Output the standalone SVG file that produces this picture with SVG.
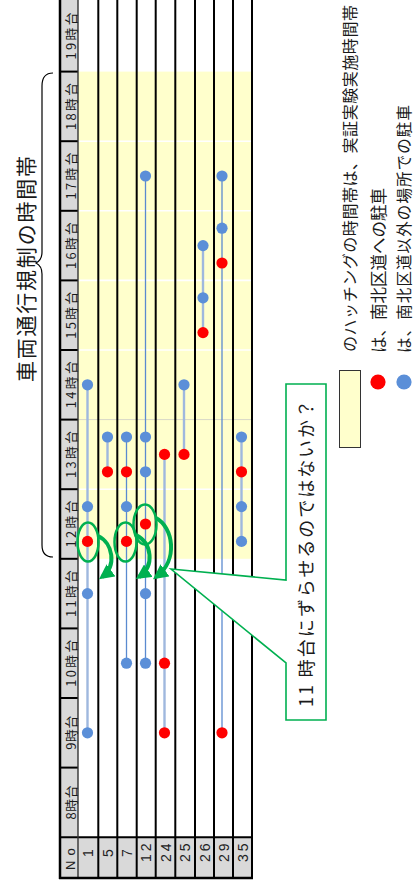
<svg xmlns="http://www.w3.org/2000/svg" width="413" height="885" viewBox="0 0 413 885">
<style>
.jp{font-family:"Noto Sans CJK JP","Liberation Sans",sans-serif;fill:#1a1a1a}
.hd{font-size:12.8px}
.num{font-family:"Liberation Sans","Noto Sans CJK JP",sans-serif;font-size:14px;fill:#222}
.vl{stroke:#000;stroke-width:2}
.hw{stroke:#fff;stroke-width:1.6}
.hb{stroke:#000;stroke-width:2}
.lnL{stroke:#9FB8DE;stroke-width:2.4}
.lnT{stroke:#5B8AD0;stroke-width:1.3}
.b{fill:#5B8FD8}
.r{fill:#FF0000}
.g{fill:none;stroke:#00B050;stroke-width:2.5}
.ga{fill:none;stroke:#00B050;stroke-width:4;marker-end:url(#ah)}
</style>
<defs>
<marker id="ah" markerUnits="userSpaceOnUse" markerWidth="15" markerHeight="15" refX="9" refY="6" orient="auto" viewBox="0 0 12 12">
<path d="M0,0 L12,6 L0,12 Z" fill="#00B050"/>
</marker>
</defs>
<rect width="413" height="885" fill="#fff"/>

<g id="table">
<rect x="78" y="71.6" width="174" height="487.2" fill="#FFFFCC"/>
<g id="hgrid">
<line class="hw" x1="78" y1="141.2" x2="252" y2="141.2"/>
<line class="hw" x1="78" y1="210.8" x2="252" y2="210.8"/>
<line class="hw" x1="78" y1="280.4" x2="252" y2="280.4"/>
<line class="hw" x1="78" y1="350" x2="252" y2="350"/>
<line x1="78" y1="419.6" x2="252" y2="419.6" stroke="#D8D8C8" stroke-width="1"/>
<line class="hw" x1="78" y1="489.2" x2="252" y2="489.2"/>
</g>
<rect x="60" y="0" width="18" height="878" fill="#D9D9D9"/>
<rect x="78" y="837.2" width="174" height="40.8" fill="#D9D9D9"/>
<g id="header-lines">
<line class="hb" x1="60" y1="71.6" x2="78" y2="71.6"/>
<line class="hb" x1="60" y1="141.2" x2="78" y2="141.2"/>
<line class="hb" x1="60" y1="210.8" x2="78" y2="210.8"/>
<line class="hb" x1="60" y1="280.4" x2="78" y2="280.4"/>
<line class="hb" x1="60" y1="350" x2="78" y2="350"/>
<line class="hb" x1="60" y1="419.6" x2="78" y2="419.6"/>
<line class="hb" x1="60" y1="489.2" x2="78" y2="489.2"/>
<line class="hb" x1="60" y1="558.8" x2="78" y2="558.8"/>
<line class="hb" x1="60" y1="628.4" x2="78" y2="628.4"/>
<line class="hb" x1="60" y1="698" x2="78" y2="698"/>
<line class="hb" x1="60" y1="767.6" x2="78" y2="767.6"/>
<line class="hb" x1="60" y1="837.2" x2="252" y2="837.2" stroke-width="1.2"/>
<line x1="60" y1="0" x2="60" y2="879" stroke="#000" stroke-width="2.5"/>
<line x1="78" y1="0" x2="78" y2="878" stroke="#333" stroke-width="1.4"/>
<line x1="59" y1="878" x2="253" y2="878" stroke="#000" stroke-width="2.5"/>
</g>
<g id="vgrid">
<line class="vl" x1="98.3" y1="0" x2="98.3" y2="878" stroke-width="2.5"/>
<line class="vl" x1="117.3" y1="0" x2="117.3" y2="878"/>
<line class="vl" x1="136.7" y1="0" x2="136.7" y2="878" stroke-width="2.5"/>
<line class="vl" x1="155.7" y1="0" x2="155.7" y2="878"/>
<line class="vl" x1="175.3" y1="0" x2="175.3" y2="878"/>
<line class="vl" x1="195" y1="0" x2="195" y2="878"/>
<line class="vl" x1="214" y1="0" x2="214" y2="878" stroke-width="2.5"/>
<line class="vl" x1="233" y1="0" x2="233" y2="878"/>
<line class="vl" x1="252" y1="0" x2="252" y2="878"/>
</g>
<g id="hour-labels" class="jp hd" text-anchor="middle" dominant-baseline="central">
<text transform="translate(70.5,36) rotate(-90)" textLength="47" lengthAdjust="spacing">19時台</text>
<text transform="translate(70.5,106.4) rotate(-90)" textLength="47" lengthAdjust="spacing">18時台</text>
<text transform="translate(70.5,176) rotate(-90)" textLength="47" lengthAdjust="spacing">17時台</text>
<text transform="translate(70.5,245.6) rotate(-90)" textLength="47" lengthAdjust="spacing">16時台</text>
<text transform="translate(70.5,315.2) rotate(-90)" textLength="47" lengthAdjust="spacing">15時台</text>
<text transform="translate(70.5,384.8) rotate(-90)" textLength="47" lengthAdjust="spacing">14時台</text>
<text transform="translate(70.5,454.4) rotate(-90)" textLength="47" lengthAdjust="spacing">13時台</text>
<text transform="translate(70.5,524) rotate(-90)" textLength="47" lengthAdjust="spacing">12時台</text>
<text transform="translate(70.5,593.6) rotate(-90)" textLength="47" lengthAdjust="spacing">11時台</text>
<text transform="translate(70.5,663.2) rotate(-90)" textLength="47" lengthAdjust="spacing">10時台</text>
<text transform="translate(70.5,732.8) rotate(-90)" textLength="34" lengthAdjust="spacing">9時台</text>
<text transform="translate(70.5,802.4) rotate(-90)" textLength="34" lengthAdjust="spacing">8時台</text>
</g>
<g id="no-labels" class="num" dominant-baseline="central">
<text transform="translate(70,870) rotate(-90)" font-size="13" letter-spacing="5">No</text>
<text transform="translate(88,853) rotate(-90)" text-anchor="middle">1</text>
<text transform="translate(107.8,853) rotate(-90)" text-anchor="middle">5</text>
<text transform="translate(127,853) rotate(-90)" text-anchor="middle">7</text>
<text transform="translate(146.2,862) rotate(-90)" letter-spacing="3">12</text>
<text transform="translate(165.5,862) rotate(-90)" letter-spacing="3">24</text>
<text transform="translate(185,862) rotate(-90)" letter-spacing="3">25</text>
<text transform="translate(204.5,862) rotate(-90)" letter-spacing="3">26</text>
<text transform="translate(223.5,862) rotate(-90)" letter-spacing="3">29</text>
<text transform="translate(242.5,862) rotate(-90)" letter-spacing="3">35</text>
</g>
</g>

<g id="connectors">
<line class="lnL" x1="87.5" y1="384.8" x2="87.5" y2="732.8"/>
<line class="lnL" x1="107.5" y1="437" x2="107.5" y2="471.8"/>
<line class="lnT" x1="126.5" y1="437" x2="126.5" y2="663.2"/>
<line class="lnT" x1="145.5" y1="176" x2="145.5" y2="663.2"/>
<line class="lnL" x1="164.5" y1="454.4" x2="164.5" y2="732.8"/>
<line class="lnL" x1="184" y1="384.8" x2="184" y2="454.4"/>
<line class="lnL" x1="203" y1="245.6" x2="203" y2="332.6"/>
<line class="lnT" x1="222" y1="176" x2="222" y2="732.8"/>
<line class="lnL" x1="241.5" y1="437" x2="241.5" y2="541.4"/>
</g>

<g id="no1"><circle class="b" cx="87.5" cy="384.8" r="5.6"/><circle class="b" cx="87.5" cy="506.6" r="5.6"/><circle class="r" cx="87.5" cy="541.4" r="5.6"/><circle class="b" cx="87.5" cy="593.6" r="5.6"/><circle class="b" cx="87.5" cy="732.8" r="5.6"/></g>
<g id="no5"><circle class="b" cx="107.5" cy="437" r="5.6"/><circle class="r" cx="107.5" cy="471.8" r="5.6"/></g>
<g id="no7"><circle class="b" cx="126.5" cy="437" r="5.6"/><circle class="r" cx="126.5" cy="471.8" r="5.6"/><circle class="b" cx="126.5" cy="506.6" r="5.6"/><circle class="r" cx="126.5" cy="541.4" r="5.6"/><circle class="b" cx="126.5" cy="663.2" r="5.6"/></g>
<g id="no12"><circle class="b" cx="145.5" cy="176" r="5.6"/><circle class="b" cx="145.5" cy="437" r="5.6"/><circle class="b" cx="145.5" cy="471.8" r="5.6"/><circle class="r" cx="145.5" cy="524" r="5.6"/><circle class="b" cx="145.5" cy="593.6" r="5.6"/><circle class="b" cx="145.5" cy="663.2" r="5.6"/></g>
<g id="no24"><circle class="r" cx="164.5" cy="454.4" r="5.6"/><circle class="r" cx="164.5" cy="663.2" r="5.6"/><circle class="r" cx="164.5" cy="732.8" r="5.6"/></g>
<g id="no25"><circle class="b" cx="184" cy="384.8" r="5.6"/><circle class="r" cx="184" cy="454.4" r="5.6"/></g>
<g id="no26"><circle class="b" cx="203" cy="245.6" r="5.6"/><circle class="b" cx="203" cy="297.8" r="5.6"/><circle class="r" cx="203" cy="332.6" r="5.6"/></g>
<g id="no29"><circle class="b" cx="222" cy="176" r="5.6"/><circle class="b" cx="222" cy="228.2" r="5.6"/><circle class="r" cx="222" cy="263" r="5.6"/><circle class="r" cx="222" cy="732.8" r="5.6"/></g>
<g id="no35"><circle class="b" cx="241.5" cy="437" r="5.6"/><circle class="r" cx="241.5" cy="471.8" r="5.6"/><circle class="b" cx="241.5" cy="506.6" r="5.6"/><circle class="b" cx="241.5" cy="541.4" r="5.6"/></g>

<g id="highlights">
<ellipse class="g" cx="88" cy="542" rx="10.5" ry="19.5"/>
<ellipse class="g" cx="125.5" cy="542" rx="11" ry="19.5"/>
<ellipse class="g" cx="145" cy="524.5" rx="11.5" ry="20"/>
<path class="ga" d="M98,536 C113,543 117,566 102,577"/>
<path class="ga" d="M136,535 C152,543 155,566 139,577"/>
<path class="ga" d="M156,518 C173,527 179,560 156,577"/>
</g>

<g id="callout">
<path d="M286,384 H326 V720 H286 V663 L171,569 L286,580 Z" fill="#fff" stroke="#00B050" stroke-width="1.6"/>
<text class="jp" transform="translate(305,707) rotate(-90)" font-size="18" dominant-baseline="central" textLength="307" lengthAdjust="spacing">11 時台にずらせるのではないか？</text>
</g>

<g id="title">
<path d="M53,73 C45,73 42,78 42,86 V252 C42,258 40,261 36,263 C40,265 42,268 42,274 V545 C42,552 45,557 53,557" fill="none" stroke="#000" stroke-width="1.2"/>
<text class="jp" transform="translate(25,269) rotate(-90)" font-size="21" text-anchor="middle" dominant-baseline="central" textLength="226" lengthAdjust="spacing">車両通行規制の時間帯</text>
</g>

<g id="legend">
<rect x="339.5" y="370.5" width="21" height="77" fill="#FFFFCC" stroke="#333" stroke-width="1"/>
<text class="jp" transform="translate(349,352) rotate(-90)" font-size="16" dominant-baseline="central" textLength="347" lengthAdjust="spacing">のハッチングの時間帯は、実証実験実施時間帯</text>
<circle class="r" cx="378" cy="382" r="7.6"/>
<text class="jp" transform="translate(378,353) rotate(-90)" font-size="16.5" dominant-baseline="central">は、南北区道への駐車</text>
<circle class="b" cx="404" cy="382" r="7.6"/>
<text class="jp" transform="translate(403,353) rotate(-90)" font-size="15.5" dominant-baseline="central" textLength="248" lengthAdjust="spacing">は、南北区道以外の場所での駐車</text>
</g>
</svg>
